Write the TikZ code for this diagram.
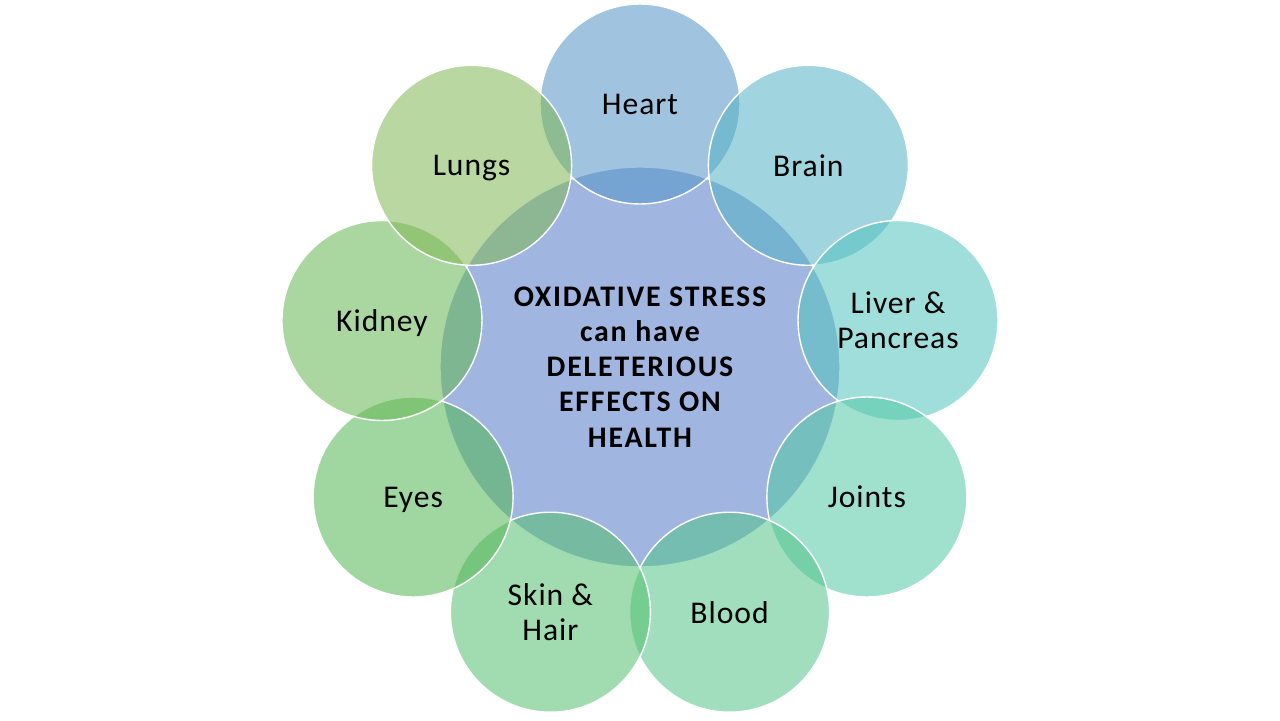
\documentclass[tikz,border=0pt]{standalone}
\usepackage{fontspec}
\setmainfont{Carlito}[LetterSpace=3]
\newfontfamily\hubfont{Carlito}[LetterSpace=6]
\usetikzlibrary{positioning}
\definecolor{corefill}{RGB}{160,182,224}
\definecolor{heartfill}{RGB}{82,148,199}
\definecolor{brainfill}{RGB}{82,177,195}
\definecolor{liverfill}{RGB}{82,195,191}
\definecolor{jointfill}{RGB}{82,200,164}
\definecolor{bloodfill}{RGB}{82,195,137}
\definecolor{skinfill}{RGB}{82,191,110}
\definecolor{eyefill}{RGB}{82,182,82}
\definecolor{kidneyfill}{RGB}{100,182,82}
\definecolor{lungfill}{RGB}{127,182,82}
\tikzset{hub/.style={circle,draw=white,line width=0.8pt,fill=corefill,minimum size=8cm,inner sep=0pt,align=center,font=\hubfont\bfseries\fontsize{17}{20}\selectfont},organ/.style={circle,draw=white,line width=0.8pt,fill opacity=0.55,text opacity=1,minimum size=4cm,inner sep=0pt,text depth=0pt,align=center,font=\fontsize{18}{20}\selectfont}}

\begin{document}
\begin{tikzpicture}
\useasboundingbox (-12.8,-7.08) rectangle (12.8,7.32);
\node[hub] (hub) at (0,-0.02) {OXIDATIVE STRESS\\can have\\DELETERIOUS\\EFFECTS ON\\HEALTH};
\node[organ,fill=heartfill] (heart) at (90:5.24) {Heart};
\node[organ,fill=brainfill] (brain) at (50:5.24) {Brain};
\node[organ,fill=liverfill] (liver) at (10:5.24) {Liver \&\\Pancreas};
\node[organ,fill=jointfill] (joints) at (-30:5.24) {Joints};
\node[organ,fill=bloodfill] (blood) at (-70:5.24) {Blood};
\node[organ,fill=skinfill] (skin) at (-110:5.24) {Skin \&\\Hair};
\node[organ,fill=eyefill] (eyes) at (-150:5.24) {Eyes};
\node[organ,fill=kidneyfill] (kidney) at (170:5.24) {Kidney};
\node[organ,fill=lungfill] (lungs) at (130:5.24) {Lungs};
\end{tikzpicture}
\end{document}
